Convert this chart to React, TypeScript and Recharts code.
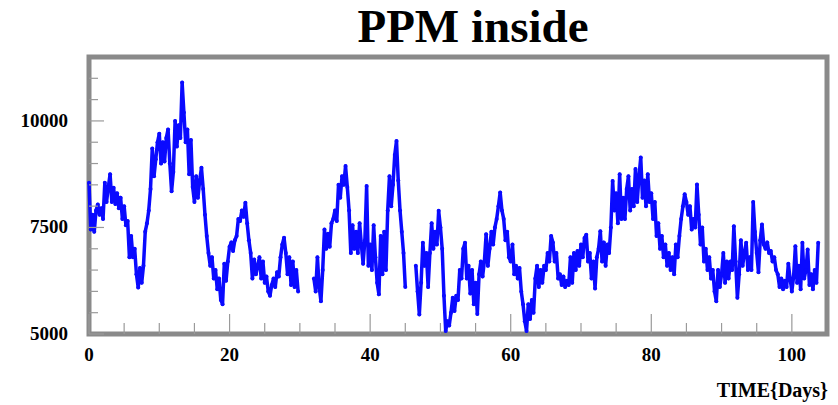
import React from "react";
import { LineChart, Line, XAxis, YAxis, ReferenceArea } from "recharts";

// readings every quarter day, starting at day 0; null = logger offline
const dayStep = 0.25;
const ppm: (number | null)[] = [
  8550, 7450, 7800, 7400, 7900, 8040, 7800, 7950, // d0-1
  7700, 8550, 8100, 8450, 8750, 8100, 8430, 8050, // d2-3
  8300, 7950, 8200, 7700, 8000, 7550, 7650, 6800, // d4-5
  7300, 6800, 7000, 6400, 6090, 6550, 6200, 6600, // d6-7
  7400, 7600, 7900, 8400, 9350, 8700, 9100, 9500, // d8-9
  9700, 9000, 9500, 9050, 9600, 9800, 9000, 8350, // d10-11
  8800, 10000, 9400, 9900, 9600, 10900, 10200, 9500, // d12-13
  9800, 8750, 9550, 8450, 8100, 8700, 8200, 8600, // d14-15
  8900, 8400, 7800, 7300, 6900, 6600, 6800, 6300, // d16-17
  6500, 6050, 6300, 5800, 5700, 6650, 6250, 6700, // d18-19
  7050, 7150, 6950, 7200, 7300, 7700, 7650, 7900, // d20-21
  7750, 8080, 7600, 7200, 6900, 6300, 6750, 6400, // d22-23
  6600, 6800, 6300, 6700, 6200, 6350, 6000, 5900, // d24-25
  6150, 6300, 6100, 6450, 6350, 6800, 7100, 7260, // d26-27
  6900, 6400, 6800, 6150, 6700, 6100, 6500, 6000, // d28-29
  null, null, null, null, null, null, null, null, // d30-31
  6300, 6000, 6800, 6100, 5770, 6500, 7450, 7000, // d32-33
  7350, 7050, 7600, 7700, 7900, 7650, 8500, 8200, // d34-35
  8700, 8500, 8940, 8450, 7900, 6900, 7550, 7000, // d36-37
  7400, 6900, 7600, 7100, 6650, 7200, 8470, 6600, // d38-39
  7100, 6500, 7550, 6800, 6200, 5930, 7300, 6400, // d40-41
  7400, 6500, 7900, 8700, 8000, 8500, 9200, 9530, // d42-43
  8600, 7900, 7400, 6900, 6100, null, null, null, // d44-45
  null, null, 6600, 6000, 5460, 6200, 7140, 6600, // d46-47
  6900, 6100, 6900, 7600, 7000, 7400, 7100, 7890, // d48-49
  7500, 7000, 5900, 5070, 5300, 5200, 5500, 5850, // d50-51
  5540, 5900, 5800, 6500, 6300, 7000, 7140, 6300, // d52-53
  6600, 5950, 6500, 5700, 6200, 5470, 6400, 6700, // d54-55
  6350, 6700, 7340, 6600, 7000, 7400, 7100, 7500, // d56-57
  7700, 8000, 8320, 7900, 7700, 7200, 7400, 6800, // d58-59
  6700, 7100, 6400, 6600, 6300, 6550, 6000, 5700, // d60-61
  5300, 5070, 5700, 5350, 5800, 5500, 6300, 6600, // d62-63
  6100, 6500, 6200, 6600, 6500, 6900, 6700, 7300, // d64-65
  7150, 6700, 6900, 6300, 6400, 6150, 6350, 6100, // d66-67
  6250, 6150, 6800, 6200, 6900, 6500, 6950, 6600, // d68-69
  7100, 6800, 7250, 7330, 6700, 6900, 6300, 6700, // d70-71
  6070, 6800, 7000, 7410, 6700, 7150, 6600, 7100, // d72-73
  6900, 7500, 8590, 7900, 8300, 7600, 8750, 7700, // d74-75
  8200, 7700, 8400, 8700, 7900, 8400, 8000, 8870, // d76-77
  8100, 8700, 9140, 8200, 8600, 8000, 8750, 8100, // d78-79
  8300, 7700, 8100, 7300, 7600, 7000, 7300, 6800, // d80-81
  7100, 6600, 6900, 6500, 6800, 6400, 7100, 6800, // d82-83
  7300, 7700, 8000, 8280, 8100, 7800, 8000, 7450, // d84-85
  7700, 7500, 8510, 7800, 7100, 7500, 6700, 7000, // d86-87
  6500, 6800, 6300, 6500, 6000, 5770, 6500, 6100, // d88-89
  6400, 6900, 6200, 6700, 6300, 6700, 6500, 7530, // d90-91
  6700, 5850, 6400, 7200, 6600, 6900, 7140, 6500, // d92-93
  6800, 6500, 8100, 7400, 6900, 6450, 7200, 7570, // d94-95
  7100, 7000, 7150, 6900, 6950, 6700, 6800, 6500, // d96-97
  6400, 6100, 6300, 6050, 6250, 6100, 6650, 6300, // d98-99
  6000, 6350, 7060, 6200, 6600, 6050, 7140, 6300, // d100-101
  6500, 6980, 6150, 6400, 6050, 6500, 6200, 7140, // d102-103
];

const xTicks = [0, 5, 10, 15, 20, 25, 30, 35, 40, 45, 50, 55, 60, 65, 70, 75, 80, 85, 90, 95, 100];
const xLabelled = [0, 20, 40, 60, 80, 100];
const yTicks = [5000, 5500, 6000, 6500, 7000, 7500, 8000, 8500, 9000, 9500, 10000, 10500, 11000];
const yLabelled = [5000, 7500, 10000];

const data = ppm.map((v, i) => ({ day: i * dayStep, ppm: v }));

const BLUE = "#0a0aff";
const FRAME = "#8a8a8a";
const TICK = "#9a9a9a";
const FONT = '"Liberation Serif", "DejaVu Serif", serif';

function DayTick({ x, y, payload }: any) {
  const major = xLabelled.includes(payload.value);
  return (
    <g>
      <line x1={x} y1={y} x2={x} y2={y - (major ? 20 : 11)} stroke={TICK} strokeWidth={1.2} />
      {major && (
        <text x={x} y={y + 27} textAnchor="middle" fontFamily={FONT} fontWeight="bold" fontSize={19} fill="#000">
          {payload.value}
        </text>
      )}
    </g>
  );
}

function PpmTick({ x, y, payload }: any) {
  const major = yLabelled.includes(payload.value);
  return (
    <g>
      <line x1={x} y1={y} x2={x + (major ? 15 : 9)} y2={y} stroke={TICK} strokeWidth={1.2} />
      {major && (
        <text x={x - 21} y={y + 6} textAnchor="end" fontFamily={FONT} fontWeight="bold" fontSize={19} fill="#000">
          {payload.value}
        </text>
      )}
    </g>
  );
}

export default function App() {
  return (
    <div style={{ position: "absolute", left: 0, top: 0, width: 838, height: 405, background: "#fff" }}>
      <div
        style={{
          position: "absolute",
          left: 273,
          width: 400,
          top: 3,
          textAlign: "center",
          fontFamily: FONT,
          fontWeight: "bold",
          fontSize: 47,
          lineHeight: "46px",
        }}
      >
        PPM inside
      </div>
      <LineChart width={838} height={405} data={data} margin={{ top: 57, right: 11, left: 0, bottom: 0 }}>
        <XAxis
          dataKey="day"
          type="number"
          domain={[0, 105]}
          ticks={xTicks}
          interval={0}
          tick={<DayTick />}
          tickLine={false}
          axisLine={false}
          tickSize={0}
          tickMargin={0}
          height={71}
        />
        <YAxis
          type="number"
          domain={[5000, 11500]}
          ticks={yTicks}
          interval={0}
          tick={<PpmTick />}
          tickLine={false}
          axisLine={false}
          tickSize={0}
          tickMargin={0}
          width={89}
        />
        <Line
          dataKey="ppm"
          stroke={BLUE}
          strokeWidth={3.5}
          strokeLinejoin="round"
          dot={{ r: 2, fill: BLUE, stroke: "none" }}
          connectNulls={false}
          isAnimationActive={false}
        />
        <ReferenceArea
          x1={0}
          x2={105}
          y1={5000}
          y2={11500}
          fill="none"
          stroke={FRAME}
          strokeWidth={5}
          ifOverflow="visible"
        />
      </LineChart>
      <div
        style={{
          position: "absolute",
          right: 10,
          top: 380,
          fontFamily: FONT,
          fontWeight: "bold",
          fontSize: 20,
          lineHeight: "20px",
        }}
      >
        TIME{"{"}Days{"}"}
      </div>
    </div>
  );
}
